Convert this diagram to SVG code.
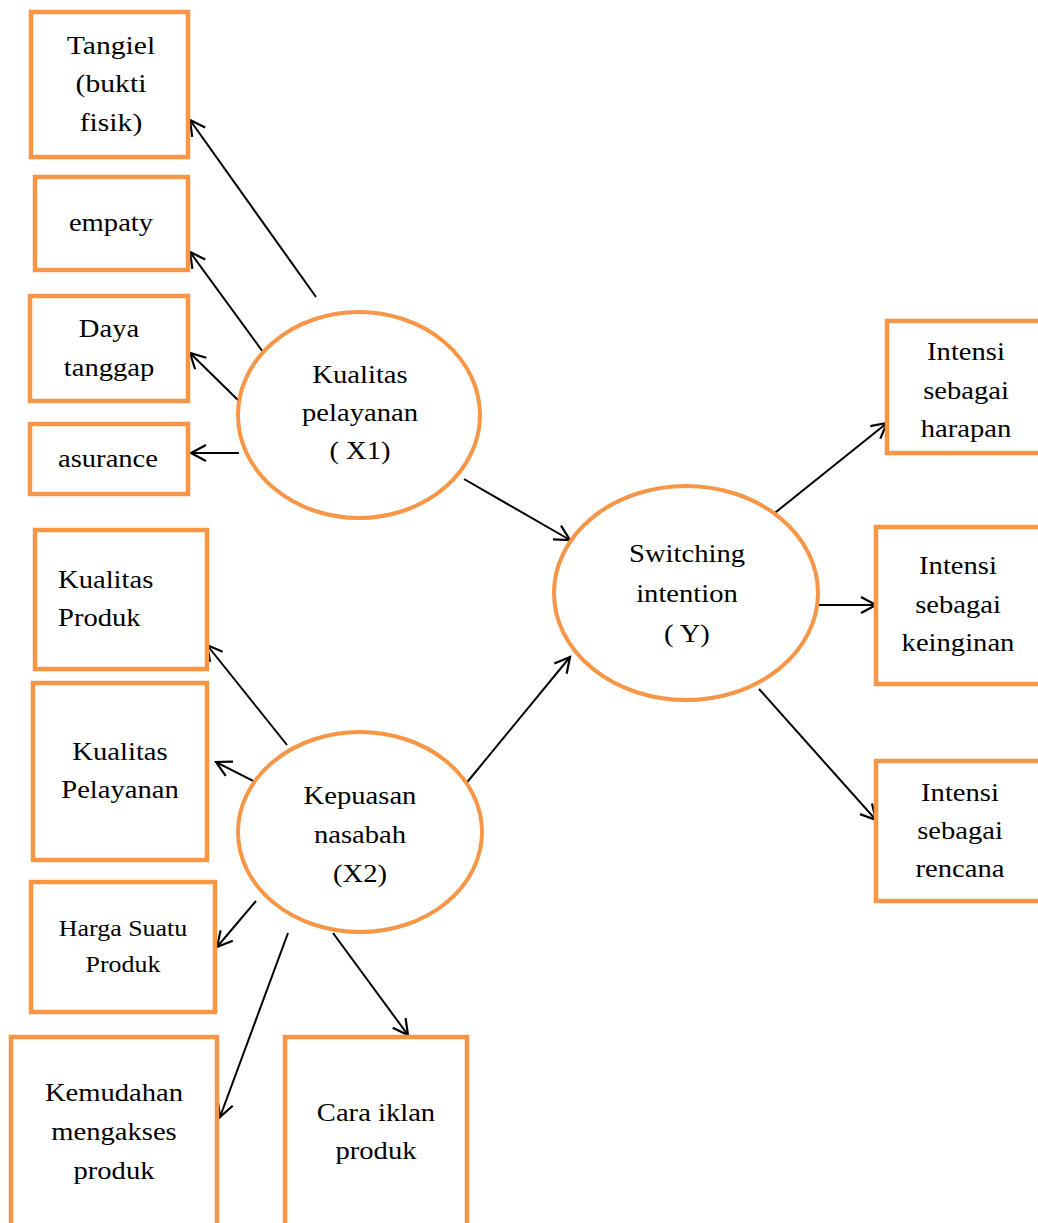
<svg xmlns="http://www.w3.org/2000/svg" width="1038" height="1223" viewBox="0 0 1038 1223">
<style>
.box{fill:#fff;stroke:#F79646;stroke-width:4.5}
.ell{fill:#fff;stroke:#F79646;stroke-width:4}
.t{font-family:"Liberation Serif","Times New Roman",serif;font-size:26px;fill:#000;text-anchor:middle}
.s{font-size:24px}
.l{text-anchor:start}
.c{stroke:#000;stroke-width:2;fill:none;marker-end:url(#ah)}
</style>
<defs>
<marker id="ah" markerUnits="userSpaceOnUse" markerWidth="22" markerHeight="22" refX="18" refY="11" orient="auto">
<path d="M3,3 L18,11 L3,19" fill="none" stroke="#000" stroke-width="2.2"/>
</marker>
</defs>
<rect width="1038" height="1223" fill="#fff"/>

<g id="connectors">
<line class="c" x1="316" y1="297" x2="190" y2="120"/>
<line class="c" x1="263" y1="352" x2="190" y2="252"/>
<line class="c" x1="239" y1="401" x2="190" y2="353"/>
<line class="c" x1="239" y1="453" x2="191" y2="453"/>
<line class="c" x1="464" y1="479" x2="570" y2="540"/>
<line class="c" x1="464" y1="786" x2="570" y2="657"/>
<line class="c" x1="287" y1="745" x2="207" y2="645"/>
<line class="c" x1="263" y1="786" x2="216" y2="762"/>
<line class="c" x1="256" y1="901" x2="217" y2="947"/>
<line class="c" x1="288" y1="933" x2="220" y2="1117"/>
<line class="c" x1="333" y1="933" x2="408" y2="1035"/>
<line class="c" x1="771" y1="516" x2="887" y2="423"/>
<line class="c" x1="818" y1="605" x2="876" y2="605"/>
<line class="c" x1="759" y1="689" x2="876" y2="820"/>
</g>

<g id="tangiel">
<rect class="box" x="31" y="12" width="157" height="145"/>
<text class="t" transform="translate(111,0) scale(1.14,1)"><tspan x="0" y="54">Tangiel</tspan><tspan x="0" y="92">(bukti</tspan><tspan x="0" y="131">fisik)</tspan></text>
</g>
<g id="empaty">
<rect class="box" x="35" y="177" width="153" height="93"/>
<text class="t" transform="translate(111,0) scale(1.1,1)"><tspan x="0" y="231">empaty</tspan></text>
</g>
<g id="daya">
<rect class="box" x="30" y="296" width="158" height="105"/>
<text class="t" transform="translate(109,0) scale(1.1,1)"><tspan x="0" y="337">Daya</tspan><tspan x="0" y="376">tanggap</tspan></text>
</g>
<g id="asurance">
<rect class="box" x="30" y="424" width="158" height="70"/>
<text class="t" transform="translate(108,0) scale(1.1,1)"><tspan x="0" y="467">asurance</tspan></text>
</g>
<g id="kualitas-produk">
<rect class="box" x="35" y="530" width="172" height="139"/>
<text class="t l" transform="translate(58,0) scale(1.1,1)"><tspan x="0" y="588">Kualitas</tspan><tspan x="0" y="626">Produk</tspan></text>
</g>
<g id="kualitas-pelayanan-ind">
<rect class="box" x="33" y="683" width="174" height="177"/>
<text class="t" transform="translate(120,0) scale(1.1,1)"><tspan x="0" y="760">Kualitas</tspan><tspan x="0" y="798">Pelayanan</tspan></text>
</g>
<g id="harga">
<rect class="box" x="31" y="882" width="184" height="130"/>
<text class="t s" transform="translate(123,0) scale(1.08,1)"><tspan x="0" y="936">Harga Suatu</tspan><tspan x="0" y="972">Produk</tspan></text>
</g>
<g id="kemudahan">
<rect class="box" x="11" y="1037" width="206" height="200"/>
<text class="t" transform="translate(114,0) scale(1.1,1)"><tspan x="0" y="1101">Kemudahan</tspan><tspan x="0" y="1140">mengakses</tspan><tspan x="0" y="1179">produk</tspan></text>
</g>
<g id="cara-iklan">
<rect class="box" x="285" y="1037" width="182" height="200"/>
<text class="t" transform="translate(376,0) scale(1.1,1)"><tspan x="0" y="1121">Cara iklan</tspan><tspan x="0" y="1159">produk</tspan></text>
</g>

<g id="x1">
<ellipse class="ell" cx="359" cy="415" rx="121" ry="103"/>
<text class="t" transform="translate(360,0) scale(1.1,1)"><tspan x="0" y="383">Kualitas</tspan><tspan x="0" y="421">pelayanan</tspan><tspan x="0" y="459">( X1)</tspan></text>
</g>
<g id="x2">
<ellipse class="ell" cx="360" cy="832" rx="122" ry="100"/>
<text class="t" transform="translate(360,0) scale(1.1,1)"><tspan x="0" y="804">Kepuasan</tspan><tspan x="0" y="843">nasabah</tspan><tspan x="0" y="882">(X2)</tspan></text>
</g>
<g id="y">
<ellipse class="ell" cx="686" cy="593" rx="132" ry="107"/>
<text class="t" transform="translate(687,0) scale(1.1,1)"><tspan x="0" y="562">Switching</tspan><tspan x="0" y="602">intention</tspan><tspan x="0" y="642">( Y)</tspan></text>
</g>

<g id="harapan">
<rect class="box" x="887" y="321" width="160" height="132"/>
<text class="t" transform="translate(966,0) scale(1.1,1)"><tspan x="0" y="360">Intensi</tspan><tspan x="0" y="399">sebagai</tspan><tspan x="0" y="437">harapan</tspan></text>
</g>
<g id="keinginan">
<rect class="box" x="876" y="527" width="170" height="157"/>
<text class="t" transform="translate(958,0) scale(1.1,1)"><tspan x="0" y="574">Intensi</tspan><tspan x="0" y="613">sebagai</tspan><tspan x="0" y="651">keinginan</tspan></text>
</g>
<g id="rencana">
<rect class="box" x="876" y="761" width="170" height="140"/>
<text class="t" transform="translate(960,0) scale(1.1,1)"><tspan x="0" y="801">Intensi</tspan><tspan x="0" y="839">sebagai</tspan><tspan x="0" y="877">rencana</tspan></text>
</g>
</svg>
